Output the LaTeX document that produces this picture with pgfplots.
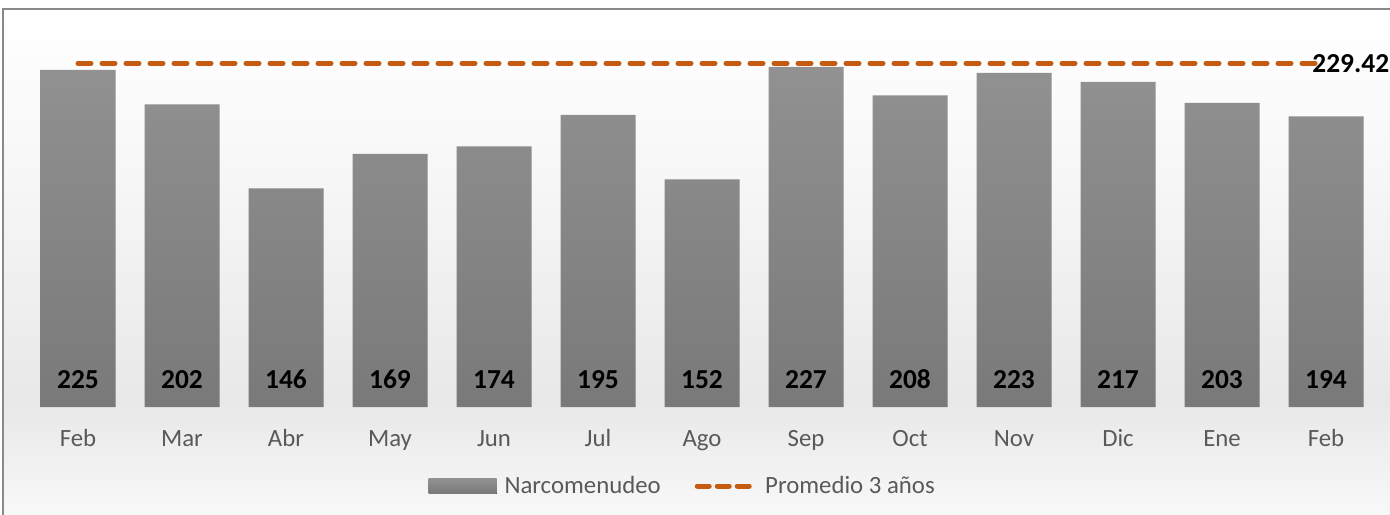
\documentclass[border=0pt]{standalone}
\usepackage{pgfplots}
\usepackage{pgfplotstable}
\pgfplotsset{compat=1.18}
\usepackage{fontspec}
\setmainfont{Carlito}
\definecolor{barTop}{RGB}{145,145,145}
\definecolor{barBot}{RGB}{121,121,121}
\definecolor{avg}{RGB}{197,90,17}
\definecolor{ticktext}{RGB}{89,89,89}
\definecolor{framec}{RGB}{137,137,137}
\pgfdeclareverticalshading{bgshade}{100bp}{color(0bp)=(white); color(25bp)=(white!98!black); color(37bp)=(white!91!black); color(60bp)=(white!97!black); color(75bp)=(white); color(100bp)=(white)}
\pgfplotstableread{
x y
0 225
1 202
2 146
3 169
4 174
5 195
6 152
7 227
8 208
9 223
10 217
11 203
12 194
}\datatable
\begin{document}
\begin{tikzpicture}
\useasboundingbox (-13pt,-53.5pt) rectangle (682pt,203.5pt);
\fill[shading=bgshade] (-11.5pt,-60pt) rectangle (690pt,199pt);
\draw[framec, line width=1pt] (-11.5pt,-60pt) rectangle (690pt,199pt);
\begin{axis}[at={(0,0)}, anchor=south west, scale only axis,
  width=676pt, height=194.75pt,
  xmin=-0.5, xmax=12.5, ymin=0, ymax=260,
  /pgf/number format/assume math mode=true,
  axis line style={draw=none}, ytick=\empty,
  xtick={0,...,12},
  xticklabels={Feb,Mar,Abr,May,Jun,Jul,Ago,Sep,Oct,Nov,Dic,Ene,Feb},
  major tick length=0pt,
  xticklabel style={font=\fontsize{12.4}{14}\selectfont\color{ticktext}, anchor=base, yshift=-19.5pt},
  clip=false,
  legend columns=2,
  legend style={at={(0.293,-0.203)}, anchor=west, draw=none, fill=none,
    font=\fontsize{12.4}{14}\selectfont\color{ticktext},
    /tikz/every even column/.append style={column sep=15pt}},
]
\addplot[ybar, bar width=37.5pt, bar shift=0pt, draw=none, top color=barTop, bottom color=barBot,
  legend image code/.code={\fill[top color=barTop,bottom color=barBot] (0pt,-3.75pt) rectangle (34pt,3.75pt); \path (36pt,0pt);}]
  table[x=x,y=y]{\datatable};
\addlegendentry{Narcomenudeo}
\addplot[avg, line width=2.5pt, line cap=round, dash pattern=on 6.5pt off 5.5pt,
  legend image code/.code={\draw[avg, line width=2.5pt, line cap=round, dash pattern=on 6pt off 4pt] (1.25pt,0pt) -- (27.25pt,0pt); \path (32pt,0pt);}]
  coordinates {(0,229.42) (12,229.42)};
\addlegendentry{Promedio 3 años}
\addplot[draw=none, mark=none, forget plot, nodes near coords, point meta=explicit,
  every node near coord/.style={anchor=base, yshift=9.5pt, font=\bfseries\fontsize{13.7}{16}\selectfont, text=black}]
  table[x=x, y expr=0, meta=y]{\datatable};
\node[anchor=west, inner sep=0pt, xshift=-7pt, font=\bfseries\fontsize{13.7}{16}\selectfont] at (axis cs:12,229.42) {229.42};
\end{axis}
\end{tikzpicture}
\end{document}
